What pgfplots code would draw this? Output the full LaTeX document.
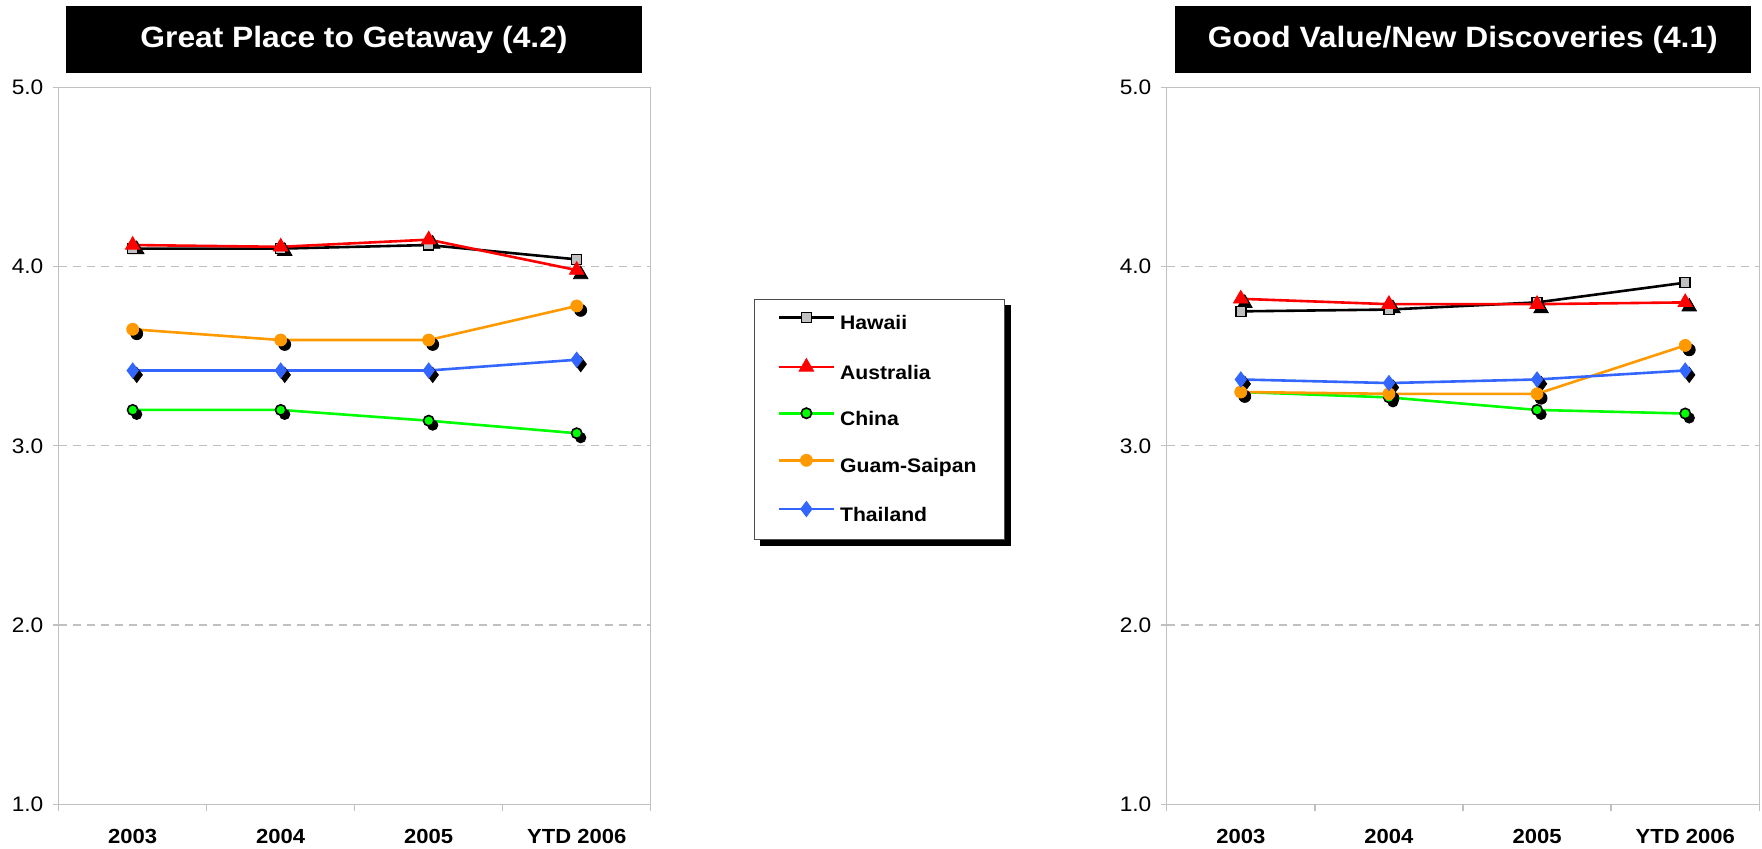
\documentclass[border=0pt]{standalone}
\usepackage{pgfplots}
\usepackage{pgfplotstable}
\pgfplotsset{compat=1.18}
\usepackage{fontspec}
\setmainfont{Liberation Sans}[FakeStretch=1.08]

\pgfdeclarelayer{background}
\pgfsetlayers{background,main}

\definecolor{hawaiigray}{HTML}{C0C0C0}
\definecolor{ausred}{HTML}{FF0000}
\definecolor{chinagreen}{HTML}{00FF00}
\definecolor{guamorange}{HTML}{FF9900}
\definecolor{thaiblue}{HTML}{3366FF}
\definecolor{framegray}{HTML}{C0C0C0}

% Mean ratings by year, one table per attribute
\pgfplotstableread{
x Hawaii Australia China Guam Thailand
0 4.10 4.12 3.20 3.65 3.42
1 4.10 4.11 3.20 3.59 3.42
2 4.12 4.15 3.14 3.59 3.42
3 4.04 3.98 3.07 3.78 3.48
}\getaway

\pgfplotstableread{
x Hawaii Australia China Guam Thailand
0 3.75 3.82 3.30 3.30 3.37
1 3.76 3.79 3.27 3.29 3.35
2 3.80 3.79 3.20 3.29 3.37
3 3.91 3.80 3.18 3.56 3.42
}\goodvalue

\pgfplotsset{
  panel/.style={
    scale only axis, width=296pt, height=358.5pt, anchor=south west,
    xmin=-0.5, xmax=3.5, ymin=1, ymax=5,
    axis line style={framegray, line width=0.7pt},
    xtick={0,1,2,3}, xticklabels={2003,2004,2005,YTD 2006},
    minor xtick={-0.5,0.5,1.5,2.5,3.5},
    ytick={1,2,3,4,5}, yticklabels={1.0,2.0,3.0,4.0,5.0},
    tick align=outside, tick pos=left,
    major tick length=2.65pt, minor tick length=3.5pt,
    tick style={framegray, line width=0.7pt},
    major x tick style={draw=none},
    ymajorgrids,
    major grid style={framegray, dash pattern=on 4pt off 3pt, line width=0.6pt},
    xticklabel style={font=\fontsize{10.2}{12}\selectfont\bfseries, yshift=-6.2pt},
    yticklabel style={font=\fontsize{10.5}{12}\selectfont, xshift=-1.5pt},
    /pgf/number format/assume math mode=true,
    clip=false,
    legend image code/.code={%
      \draw[mark repeat=2,mark phase=2,##1] plot coordinates {(0pt,3.5pt) (13.75pt,3.5pt) (27.5pt,3.5pt)};},
  },
  hawaii/.style={black, line width=1.3pt, mark=square*, mark size=2.5pt,
    mark options={fill=hawaiigray, draw=black, line width=0.8pt}},
  australia/.style={ausred, line width=1.3pt, mark=triangle*, mark size=4.2pt,
    mark options={fill=ausred, draw=ausred, line width=0.4pt}},
  china/.style={chinagreen, line width=1.3pt, mark=*, mark size=2.6pt,
    mark options={fill=chinagreen, draw=black, line width=0.8pt}},
  guam/.style={guamorange, line width=1.3pt, mark=*, mark size=3pt,
    mark options={fill=guamorange, draw=guamorange, line width=0.4pt}},
  thailand/.style={thaiblue, line width=1.3pt, mark=diamond*, mark size=3.8pt,
    mark options={fill=thaiblue, draw=thaiblue, line width=0.4pt}},
  dropmark/.style={forget plot, only marks, black,
    mark options={fill=black, draw=black, line width=0.4pt, xshift=2pt, yshift=-2.2pt}},
}

\begin{document}
\begin{tikzpicture}
\path[use as bounding box] (0,0) rectangle (881pt,424.5pt);

\begin{axis}[panel, at={(29.35pt,22.35pt)},
  legend cell align=left,
  legend style={
    name=lgd,
    at={(1.1745,0.7047)}, anchor=north west,
    draw=black!70, line width=0.6pt, fill=white,
    inner xsep=11.5pt, inner ysep=6.4pt, row sep=11.8pt,
    nodes={inner xsep=2.45pt, inner ysep=0pt, text height=8pt, text depth=2.5pt},
    font=\fontsize{9.8}{12}\selectfont\bfseries,
  }]
  % offset dark copies of the markers
  \addplot[dropmark, mark=triangle*, mark size=4.2pt] table[x=x, y=Australia] {\getaway};
  \addplot[dropmark, mark=*, mark size=2.6pt] table[x=x, y=China] {\getaway};
  \addplot[dropmark, mark=*, mark size=3pt] table[x=x, y=Guam] {\getaway};
  \addplot[dropmark, mark=diamond*, mark size=3.8pt] table[x=x, y=Thailand] {\getaway};
  % series
  \addplot[hawaii] table[x=x, y=Hawaii] {\getaway};
  \addplot[australia] table[x=x, y=Australia] {\getaway};
  \addplot[china] table[x=x, y=China] {\getaway};
  \addplot[guam] table[x=x, y=Guam] {\getaway};
  \addplot[thailand] table[x=x, y=Thailand] {\getaway};
  \legend{Hawaii, Australia, China, Guam-Saipan, Thailand}
\end{axis}

% legend shadow
\begin{pgfonlayer}{background}
  \fill[black] ([xshift=2.8pt,yshift=-2.8pt]lgd.south west) rectangle ([xshift=2.8pt,yshift=-2.8pt]lgd.north east);
\end{pgfonlayer}

\begin{axis}[panel, at={(583.35pt,22.35pt)}, width=296.3pt]
  \addplot[dropmark, mark=triangle*, mark size=4.2pt] table[x=x, y=Australia] {\goodvalue};
  \addplot[dropmark, mark=*, mark size=2.6pt] table[x=x, y=China] {\goodvalue};
  \addplot[dropmark, mark=*, mark size=3pt] table[x=x, y=Guam] {\goodvalue};
  \addplot[dropmark, mark=diamond*, mark size=3.8pt] table[x=x, y=Thailand] {\goodvalue};
  \addplot[hawaii] table[x=x, y=Hawaii] {\goodvalue};
  \addplot[australia] table[x=x, y=Australia] {\goodvalue};
  \addplot[china] table[x=x, y=China] {\goodvalue};
  \addplot[guam] table[x=x, y=Guam] {\goodvalue};
  \addplot[thailand] table[x=x, y=Thailand] {\goodvalue};
\end{axis}

% panel headings
\node[fill=black, text=white, font=\fontsize{14.7}{17}\selectfont\bfseries,
  minimum width=288pt, minimum height=33.65pt, inner sep=0pt,
  text height=10.5pt, text depth=3pt] at (177pt,404.7pt) {Great Place to Getaway (4.2)};
\node[fill=black, text=white, font=\fontsize{14.7}{17}\selectfont\bfseries,
  minimum width=287.85pt, minimum height=33.65pt, inner sep=0pt,
  text height=10.5pt, text depth=3pt] at (731.4pt,404.7pt) {Good Value/New Discoveries (4.1)};
\end{tikzpicture}
\end{document}
